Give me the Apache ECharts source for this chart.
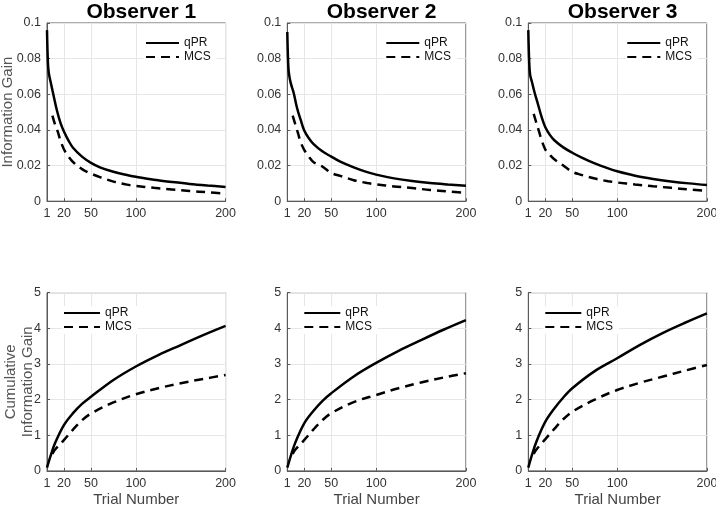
<!DOCTYPE html>
<html><head><meta charset="utf-8">
<script src="https://cdn.jsdelivr.net/npm/echarts@6/dist/echarts.min.js"></script>
<style>html,body{margin:0;padding:0;background:#fff}#c{width:716px;height:506px}</style>
</head><body><div id="c"></div>
<script>
const observers = ['Observer 1', 'Observer 2', 'Observer 3'];
const xTicks = [1, 20, 50, 100, 200];

// Information gain per trial
const topTrialsQPR = [1,2,3,5,8,12,16,20,25,30,40,50,60,75,90,100,120,140,160,180,200];
const topQPR1 = [0.096,0.078,0.072,0.067,0.060,0.051,0.044,0.039,0.034,0.030,0.025,0.0215,0.019,0.0165,0.0147,0.0137,0.0120,0.0108,0.0097,0.0088,0.0080];
const topQPR2 = [0.095,0.077,0.071,0.066,0.061,0.052,0.0455,0.0395,0.0353,0.0322,0.0280,0.025,0.0222,0.019,0.0163,0.0149,0.0128,0.0113,0.0102,0.0094,0.0087];
const topQPR3 = [0.096,0.078,0.071,0.067,0.061,0.054,0.047,0.0415,0.0372,0.0342,0.0302,0.0272,0.0246,0.0212,0.0184,0.0168,0.0143,0.0125,0.0111,0.0100,0.0091];
const topTrialsMCS = [7,10,13,16,20,25,30,40,50,60,75,90,100,120,140,160,180,200];
const topMCS1 = [0.048,0.043,0.039,0.034,0.029,0.025,0.022,0.018,0.0155,0.0135,0.011,0.0093,0.0086,0.0075,0.0066,0.0057,0.005,0.0043];
const topMCS2 = [0.048,0.043,0.038,0.033,0.0287,0.025,0.022,0.0195,0.0158,0.0142,0.0118,0.0102,0.0095,0.0083,0.0074,0.0063,0.0055,0.0047];
const topMCS3 = [0.049,0.044,0.039,0.034,0.029,0.026,0.0235,0.020,0.0165,0.0148,0.0127,0.0112,0.0105,0.0094,0.0084,0.0075,0.0066,0.0058];

// Cumulative information gain
const botTrialsQPR = [1,5,10,20,30,40,50,75,100,125,150,175,200];
const botQPR1 = [0.09,0.42,0.78,1.29,1.62,1.88,2.08,2.55,2.93,3.25,3.53,3.81,4.07];
const botQPR2 = [0.09,0.43,0.80,1.34,1.68,1.96,2.18,2.65,3.03,3.37,3.67,3.96,4.23];
const botQPR3 = [0.09,0.44,0.82,1.38,1.75,2.06,2.32,2.80,3.16,3.53,3.86,4.15,4.42];
const botTrialsMCS = [7,10,20,30,40,50,75,100,125,150,175,200];
const botMCS1 = [0.48,0.60,0.87,1.16,1.42,1.61,1.92,2.15,2.32,2.46,2.58,2.69];
const botMCS2 = [0.48,0.60,0.87,1.16,1.42,1.62,1.93,2.13,2.32,2.48,2.62,2.74];
const botMCS3 = [0.48,0.60,0.89,1.18,1.45,1.66,2.00,2.27,2.47,2.64,2.81,2.97];

const topQ = [topQPR1, topQPR2, topQPR3];
const topM = [topMCS1, topMCS2, topMCS3];
const botQ = [botQPR1, botQPR2, botQPR3];
const botM = [botMCS1, botMCS2, botMCS3];

const FONT = 'Liberation Sans, Arial, Helvetica, sans-serif';
const colLefts = [47, 287.3, 528.3];
const colW = 178.6;
const rowTops = [23, 292.7];
const rowH = 178.2;

const pairs = (xs, ys) => xs.map((x, i) => [x, ys[i]]);

const grids = [], xAxes = [], yAxes = [], series = [], legends = [], titles = [];
for (let r = 0; r < 2; r++) {
  for (let c = 0; c < 3; c++) {
    const gi = r * 3 + c;
    grids.push({left: colLefts[c], top: rowTops[r], width: colW, height: rowH,
      show: true, borderColor: '#5a5a5a', borderWidth: 1, backgroundColor: 'transparent',
      containLabel: false, outerBoundsMode: 'none'});
    xAxes.push({type: 'value', gridIndex: gi, min: 1, max: 200,
      name: r === 1 ? 'Trial Number' : '', nameLocation: 'middle', nameGap: 21, nameMoveOverlap: false,
      nameTextStyle: {fontFamily: FONT, fontSize: 15, color: '#444'},
      axisLine: {show: true, lineStyle: {color: '#5a5a5a', width: 1}},
      axisTick: {show: true, inside: true, length: 3, customValues: xTicks, lineStyle: {color: '#5a5a5a'}},
      axisLabel: {customValues: xTicks, fontFamily: FONT, fontSize: 12.5, color: '#333', margin: 6, showMinLabel: true, showMaxLabel: true},
      splitLine: {show: true, lineStyle: {color: '#e6e6e6', width: 1}}
    });
    yAxes.push({type: 'value', gridIndex: gi, min: 0, max: r === 0 ? 0.1 : 5, interval: r === 0 ? 0.02 : 1,
      name: c === 0 ? (r === 0 ? 'Information Gain' : 'Cumulative\nInformation Gain') : '',
      nameLocation: 'middle', nameGap: r === 0 ? 31 : 11, nameMoveOverlap: false,
      nameTextStyle: {fontFamily: FONT, fontSize: 15, color: '#555', lineHeight: 17},
      axisLine: {show: true, lineStyle: {color: '#5a5a5a', width: 1}},
      axisTick: {show: true, inside: true, length: 3, lineStyle: {color: '#5a5a5a'}},
      axisLabel: {fontFamily: FONT, fontSize: 12.5, color: '#333', margin: 6,
        formatter: v => String(Math.round(v * 100) / 100)},
      splitLine: {show: true, lineStyle: {color: '#e6e6e6', width: 1}}
    });
    const q = r === 0 ? pairs(topTrialsQPR, topQ[c]) : pairs(botTrialsQPR, botQ[c]);
    const m = r === 0 ? pairs(topTrialsMCS, topM[c]) : pairs(botTrialsMCS, botM[c]);
    series.push({name: 'qPR', type: 'line', xAxisIndex: gi, yAxisIndex: gi, data: q,
      symbol: 'none', smooth: 0.35, lineStyle: {color: '#000', width: 2.5}, itemStyle: {color: '#000'}, z: 3});
    series.push({name: 'MCS', type: 'line', xAxisIndex: gi, yAxisIndex: gi, data: m,
      symbol: 'none', smooth: 0.35, lineStyle: {color: '#000', width: 2.5, type: [9, 6]}, itemStyle: {color: '#000'}, z: 3});
    legends.push({
      data: ['qPR', 'MCS'], orient: 'vertical',
      left: r === 0 ? colLefts[c] + 97 : colLefts[c] + 15,
      top: r === 0 ? 36 : 306,
      itemWidth: r === 0 ? 33 : 36, itemHeight: 13, itemGap: 2, padding: [1, 6, 1, 1],
      backgroundColor: '#fff', selectedMode: false,
      itemStyle: {opacity: 0},
      textStyle: {fontFamily: FONT, fontSize: 12, color: '#111', padding: [0, 0, 0, 0]}
    });
  }
}
for (let c = 0; c < 3; c++) {
  titles.push({text: observers[c], left: colLefts[c] + colW / 2, top: -3, textAlign: 'center',
    textStyle: {fontFamily: FONT, fontSize: 21, fontWeight: 'bold', color: '#000'}});
}

const chart = echarts.init(document.getElementById('c'), null, {renderer: 'canvas'});
chart.setOption({
  animation: false, backgroundColor: '#fff',
  title: titles, grid: grids, xAxis: xAxes, yAxis: yAxes, series: series, legend: legends
});
</script></body></html>
